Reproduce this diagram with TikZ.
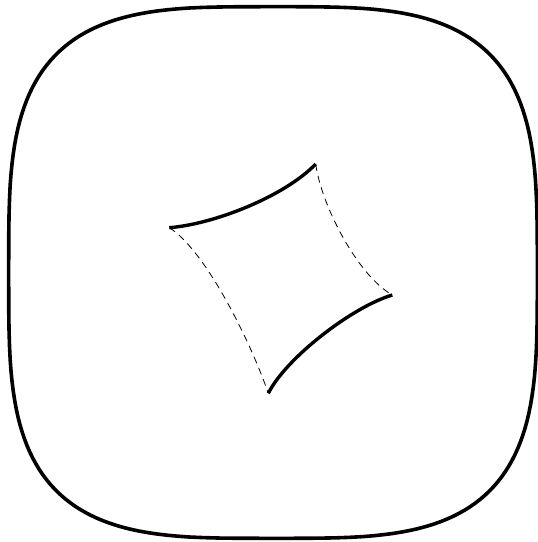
\documentclass[tikz,border=0pt]{standalone}
\begin{document}
\begin{tikzpicture}[x=1pt,y=-1pt,
  outerline/.style={line width=3.6pt},
  solidside/.style={line width=3.4pt},
  dashside/.style={line width=0.8pt,dash pattern=on 7pt off 5pt}]
\useasboundingbox (0,0) rectangle (538,542);
\clip (0,0) rectangle (538,542);
\draw[outerline] plot[domain=1:361,samples=180,variable=\t]
  ({273+264.3*sign(cos(\t))*abs(cos(\t))^(0.5714)},
   {272.5+265.8*sign(sin(\t))*abs(sin(\t))^(0.5714)}) -- cycle;
\coordinate (A) at (169.3,227.7);
\coordinate (B) at (315.7,164);
\coordinate (C) at (392.3,295);
\coordinate (D) at (268.3,393.3);
\draw[solidside] (A) .. controls (215,224) and (285,196) .. (B);
\draw[solidside] (C) .. controls (352,307) and (286,358) .. (D);
\draw[dashside] (B) .. controls (321,204) and (357,275) .. (C);
\draw[dashside] (A) .. controls (205,250) and (250,340) .. (D);
\end{tikzpicture}
\end{document}
